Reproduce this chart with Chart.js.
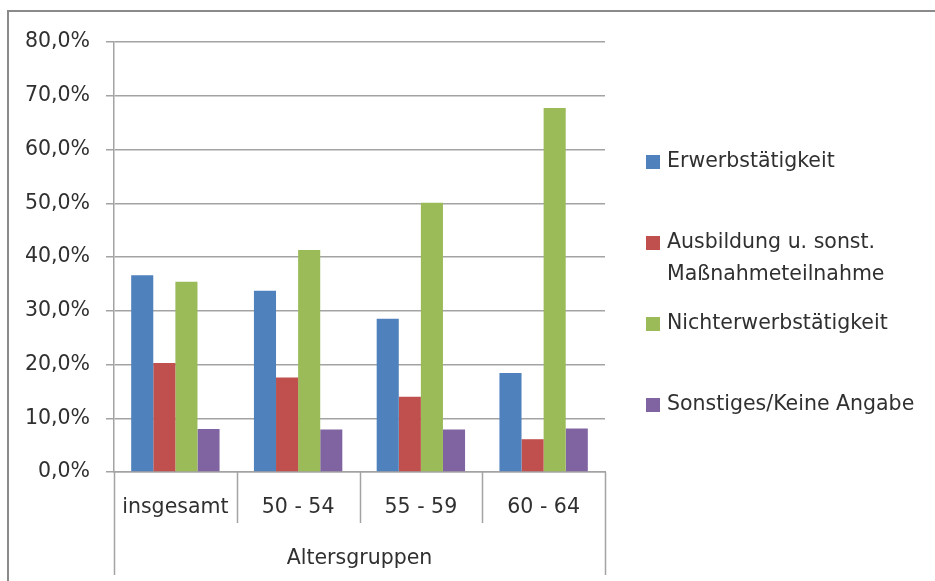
<!DOCTYPE html>
<html lang="de">
<head>
<meta charset="utf-8">
<title>Verbleib nach Altersgruppen</title>
<script src="https://cdn.jsdelivr.net/npm/chart.js@4.4.1/dist/chart.umd.min.js"></script>
<style>
  html, body { margin: 0; padding: 0; background: #fff; }
  #wrap { position: relative; width: 935px; height: 581px; overflow: hidden; }
  #frame { position: absolute; left: 7px; top: 10px; right: -4px; bottom: -4px;
           border-top: 2px solid #8a8a8a; border-left: 2px solid #8a8a8a; }
  canvas { position: absolute; left: 0; top: 0; }
</style>
</head>
<body>
<div id="wrap">
  <div id="frame"></div>
  <canvas id="chart" width="935" height="581"></canvas>
</div>
<script>
// Altersgruppen (Kategorien der x-Achse)
const categories = ['insgesamt', '50 - 54', '55 - 59', '60 - 64'];
const axisTitle = 'Altersgruppen';

// Anteile in Prozent je Status
const erwerbstaetigkeit = [36.6, 33.7, 28.5, 18.4];
const ausbildung = [20.3, 17.6, 14.0, 6.1];
const nichterwerbstaetigkeit = [35.4, 41.3, 50.1, 67.7];
const sonstiges = [8.0, 7.9, 7.9, 8.1];

const seriesNames = [
  'Erwerbstätigkeit',
  'Ausbildung u. sonst. Maßnahmeteilnahme',
  'Nichterwerbstätigkeit',
  'Sonstiges/Keine Angabe'
];
const seriesColors = ['#4F81BD', '#C0504D', '#9BBB59', '#8064A2'];

// y-Achse: 0 % bis 80 % in Zehnerschritten
const yMin = 0, yMax = 80, yStep = 10;

const FONT = '"DejaVu Sans", sans-serif';
const FSIZE = 20.5;
const TEXT = '#303030';
const GRID = '#a3a3a3';

function fmtPercent(v) {
  return v.toFixed(1).replace('.', ',') + '%';
}

// Trennlinien unter der Kategorienachse (mehrstufige Beschriftung)
const categorySeparators = {
  id: 'categorySeparators',
  afterDraw(chart) {
    const x = chart.scales.x;
    const ctx = chart.ctx;
    const n = chart.data.labels.length;
    const step = x.width / n;
    const base = x.top;
    ctx.save();
    ctx.strokeStyle = GRID;
    ctx.lineWidth = 1.5;
    for (let i = 0; i <= n; i++) {
      const px = Math.round(x.left + i * step) + 0.5;
      const outer = (i === 0 || i === n);
      ctx.beginPath();
      ctx.moveTo(px, base);
      ctx.lineTo(px, outer ? x.bottom - 6 : base + 51);
      ctx.stroke();
    }
    ctx.restore();
  }
};

// Legende rechts neben dem Diagramm, mit Zeilenumbruch
const sideLegend = {
  id: 'sideLegend',
  afterDraw(chart) {
    const ctx = chart.ctx;
    const area = chart.chartArea;
    const boxX = area.right + 41;
    const textX = boxX + 21;
    const maxW = chart.width - textX - 6;
    const firstY = 162, entryStep = 81, lineH = 32;
    ctx.save();
    ctx.font = FSIZE + 'px ' + FONT;
    ctx.textBaseline = 'middle';
    ctx.fillStyle = TEXT;
    chart.data.datasets.forEach((ds, i) => {
      const words = ds.label.split(' ');
      const lines = [];
      let cur = '';
      words.forEach(w => {
        const t = cur ? cur + ' ' + w : w;
        if (cur && ctx.measureText(t).width > maxW) { lines.push(cur); cur = w; }
        else cur = t;
      });
      lines.push(cur);
      const y0 = firstY + i * entryStep;
      ctx.fillStyle = ds.backgroundColor;
      ctx.fillRect(boxX, y0 - 7, 14, 14);
      ctx.fillStyle = TEXT;
      lines.forEach((ln, k) => ctx.fillText(ln, textX, y0 + k * lineH));
    });
    ctx.restore();
  }
};

const seriesValues = [erwerbstaetigkeit, ausbildung, nichterwerbstaetigkeit, sonstiges];

new Chart(document.getElementById('chart'), {
  type: 'bar',
  data: {
    labels: categories,
    datasets: seriesValues.map((vals, i) => ({
      label: seriesNames[i],
      data: vals,
      backgroundColor: seriesColors[i],
      borderWidth: 0,
      barPercentage: 1.0,
      categoryPercentage: 0.72
    }))
  },
  options: {
    responsive: false,
    animation: false,
    devicePixelRatio: 1,
    layout: { padding: { left: 0, right: 330, top: 42, bottom: 0 } },
    plugins: {
      legend: { display: false },
      tooltip: { enabled: false },
      title: { display: false }
    },
    scales: {
      x: {
        offset: true,
        grid: { display: false },
        border: { display: true, color: GRID, width: 1.5 },
        ticks: { color: TEXT, font: { family: FONT, size: FSIZE }, padding: 15, maxRotation: 0 },
        title: {
          display: true,
          text: axisTitle,
          color: TEXT,
          font: { family: FONT, size: FSIZE },
          padding: { top: 0, bottom: 10 }
        },
        afterFit(scale) { scale.height = 109; }
      },
      y: {
        min: yMin,
        max: yMax,
        ticks: {
          stepSize: yStep,
          color: TEXT,
          font: { family: FONT, size: FSIZE },
          padding: 16,
          callback: (v) => fmtPercent(v)
        },
        grid: { color: GRID, lineWidth: 1.5, tickLength: 8 },
        border: { display: true, color: GRID, width: 1.5 },
        afterFit(scale) { scale.width = 114; }
      }
    }
  },
  plugins: [categorySeparators, sideLegend]
});
</script>
</body>
</html>
